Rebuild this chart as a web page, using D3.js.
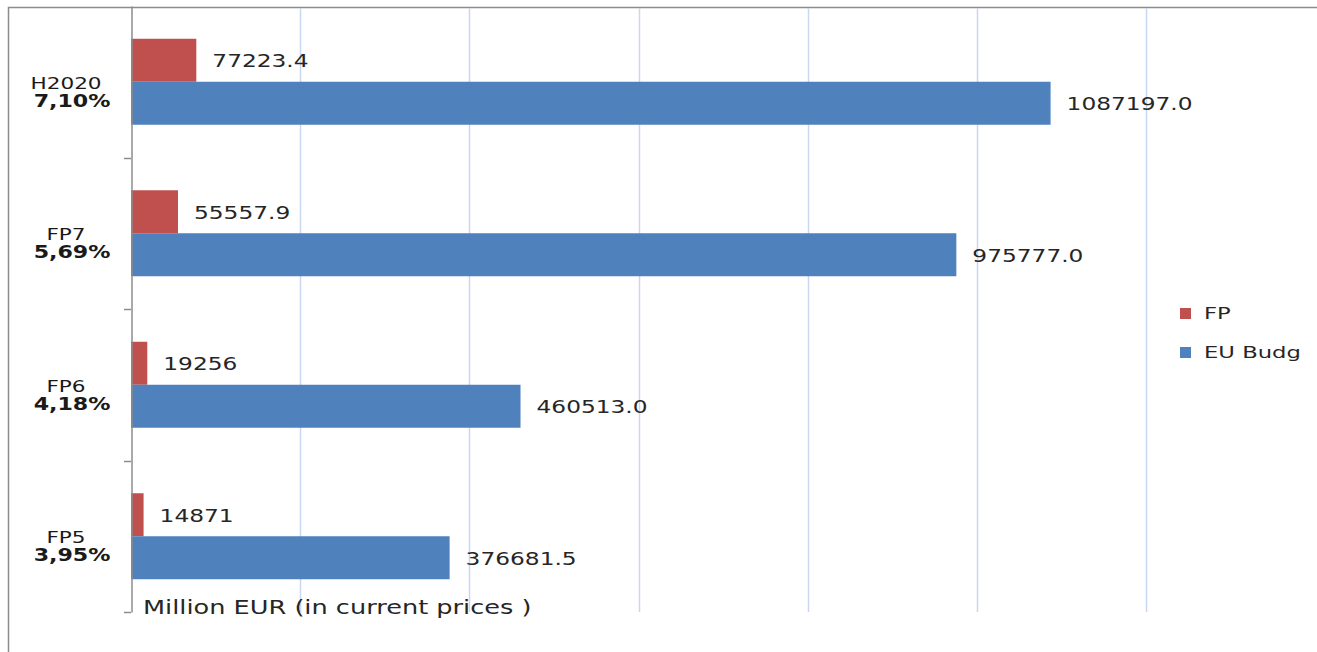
<!DOCTYPE html>
<html lang="en">
<head>
<meta charset="utf-8">
<title>FP vs EU budget</title>
<script src="https://d3js.org/d3.v7.min.js"></script>
<style>
  body { margin: 0; background: #fff; }
  svg text { font-family: "DejaVu Sans", Verdana, sans-serif; }
</style>
</head>
<body>
<script>
// data
var programmes = ["H2020", "FP7", "FP6", "FP5"];
var shares = ["7,10%", "5,69%", "4,18%", "3,95%"];
var series = ["FP", "EU Budg"];
var fpValues = [77223.4, 55557.9, 19256, 14871];
var budgValues = [1087197.0, 975777.0, 460513.0, 376681.5];
var fpLabels = ["77223.4", "55557.9", "19256", "14871"];
var budgLabels = ["1087197.0", "975777.0", "460513.0", "376681.5"];
var gridTicks = [200000, 400000, 600000, 800000, 1000000, 1200000];
var colors = ["#C0504D", "#4F81BD"];

var w = 1317, h = 652;
var stretch = 1.37; // text in the reference is wide

var svg = d3.select("body").append("svg")
    .attr("width", w)
    .attr("height", h);

// outer frame (left and top edges only visible)
svg.append("path")
    .attr("d", "M8.5,652V7.5H1317")
    .attr("fill", "none")
    .attr("stroke", "#8c8c8c")
    .attr("stroke-width", 1.5);

var xScale = d3.scaleLinear()
    .domain([0, 1200000])
    .range([131, 1146]);

var yScale = d3.scaleBand()
    .domain(programmes)
    .range([6, 612]);

var inner = d3.scaleBand()
    .domain(series)
    .range([0, yScale.bandwidth()])
    .paddingOuter(0.762);

// gridlines
svg.append("g").selectAll("line")
    .data(gridTicks)
    .enter().append("line")
    .attr("x1", function(d) { return Math.round(xScale(d)) + 0.5; })
    .attr("x2", function(d) { return Math.round(xScale(d)) + 0.5; })
    .attr("y1", 8)
    .attr("y2", 612)
    .attr("stroke", "#c9d7f0")
    .attr("stroke-width", 1.5);

// bars
var rows = programmes.map(function(p, i) {
    return { name: p, share: shares[i],
             vals: [ { s: "FP", v: fpValues[i], l: fpLabels[i] },
                     { s: "EU Budg", v: budgValues[i], l: budgLabels[i] } ] };
});

var groups = svg.append("g").selectAll("g")
    .data(rows)
    .enter().append("g")
    .attr("transform", function(d) { return "translate(0," + yScale(d.name) + ")"; });

groups.selectAll("rect")
    .data(function(d) { return d.vals; })
    .enter().append("rect")
    .attr("x", xScale(0))
    .attr("y", function(d) { return inner(d.s); })
    .attr("width", function(d) { return xScale(d.v) - xScale(0); })
    .attr("height", inner.bandwidth())
    .attr("fill", function(d, i) { return colors[i]; });

groups.selectAll("text.val")
    .data(function(d) { return d.vals; })
    .enter().append("text")
    .attr("class", "val")
    .attr("transform", function(d) {
        return "translate(" + (xScale(d.v) + 16) + "," + (inner(d.s) + inner.bandwidth() / 2 + 7) + ") scale(" + stretch + ",1)";
    })
    .attr("font-size", 17)
    .attr("fill", "#262626")
    .text(function(d) { return d.l; });

// category labels
groups.append("text")
    .attr("transform", function(d) { return "translate(66," + (yScale.bandwidth() / 2 + 7) + ") scale(1.35,1)"; })
    .attr("text-anchor", "middle")
    .attr("font-size", 16)
    .attr("fill", "#1a1a1a")
    .text(function(d) { return d.name; });

groups.append("text")
    .attr("transform", function(d) { return "translate(72," + (yScale.bandwidth() / 2 + 25) + ") scale(1.23,1)"; })
    .attr("text-anchor", "middle")
    .attr("font-size", 18)
    .attr("font-weight", "bold")
    .attr("fill", "#1a1a1a")
    .text(function(d) { return d.share; });

// y axis
var yAxis = d3.axisLeft(yScale).tickSize(0).tickFormat("");
var ya = svg.append("g")
    .attr("transform", "translate(131.5,0)")
    .call(yAxis);
ya.select(".domain").attr("stroke", "#8c8c8c").attr("stroke-width", 1.5);
ya.selectAll(".tick").remove();

svg.append("g").selectAll("line")
    .data(programmes)
    .enter().append("line")
    .attr("x1", 124)
    .attr("x2", 131)
    .attr("y1", function(d) { return Math.round(yScale(d) + yScale.bandwidth()) + 0.5; })
    .attr("y2", function(d) { return Math.round(yScale(d) + yScale.bandwidth()) + 0.5; })
    .attr("stroke", "#8c8c8c")
    .attr("stroke-width", 1.5);

// axis title
svg.append("text")
    .attr("transform", "translate(143,614) scale(1.28,1)")
    .attr("font-size", 20)
    .attr("fill", "#262626")
    .text("Million EUR (in current prices )");

// legend
var legend = svg.append("g").selectAll("g")
    .data(series)
    .enter().append("g")
    .attr("transform", function(d, i) { return "translate(1180," + (308 + i * 39) + ")"; });

legend.append("rect")
    .attr("width", 11)
    .attr("height", 11)
    .attr("fill", function(d, i) { return colors[i]; });

legend.append("text")
    .attr("transform", "translate(24,11) scale(1.42,1)")
    .attr("font-size", 16)
    .attr("fill", "#262626")
    .text(function(d) { return d; });
</script>
</body>
</html>
